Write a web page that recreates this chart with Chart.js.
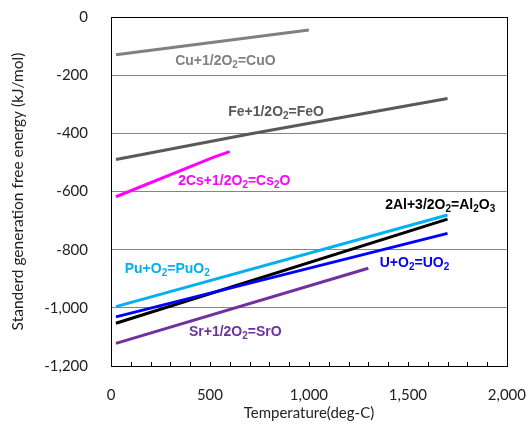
<!DOCTYPE html>
<html>
<head>
<meta charset="utf-8">
<script src="https://cdn.jsdelivr.net/npm/chart.js@4.4.1/dist/chart.umd.min.js"></script>
<style>
  html, body { margin: 0; padding: 0; background: #fff; }
  #wrap { width: 529px; height: 431px; }
</style>
</head>
<body>
<div id="wrap"><canvas id="ellingham"></canvas></div>
<script>
// temperature (deg-C) and standard free energy (kJ/mol) per reaction
const cuT = [25, 1000];
const cuG = [-130, -45];
const feT = [25, 700, 1700];
const feG = [-490, -402, -280];
const csT = [25, 520, 600];
const csG = [-618, -482, -463];
const alT = [25, 1700];
const alG = [-1053, -695];
const puT = [25, 1700];
const puG = [-996, -681];
const uT = [25, 1700];
const uG = [-1031, -744];
const srT = [25, 1300];
const srG = [-1122, -864];

const xTicks = [0, 500, 1000, 1500, 2000];
const yTicks = [0, -200, -400, -600, -800, -1000, -1200];

const pts = (xs, ys) => xs.map((x, i) => ({x: x, y: ys[i]}));

// reaction labels, '_' marks the next char as a subscript
const notes = [
    {text: 'Cu+1/2O_2=CuO', x: 578, y: -151, color: '#808080'},
    {text: 'Fe+1/2O_2=FeO', x: 834, y: -327, color: '#595959'},
    {text: '2Cs+1/2O_2=Cs_2O', x: 623, y: -564, color: '#ff00ff'},
    {text: '2Al+3/2O_2=Al_2O_3', x: 1663, y: -646, color: '#000000'},
    {text: 'Pu+O_2=PuO_2', x: 284, y: -867, color: '#00b0f0'},
    {text: 'U+O_2=UO_2', x: 1533, y: -846, color: '#0000ff'},
    {text: 'Sr+1/2O_2=SrO', x: 628, y: -1083, color: '#7030a0'},
];

const decor = {
    id: 'decor',
    afterDraw(chart) {
        const ctx = chart.ctx;
        const a = chart.chartArea;
        const sx = chart.scales.x, sy = chart.scales.y;
        ctx.save();
        // inward minor ticks on the x axis
        ctx.strokeStyle = '#000';
        ctx.lineWidth = 1;
        ctx.beginPath();
        for (let v = 100; v < 2000; v += 100) {
            const px = Math.round(sx.getPixelForValue(v)) + 0.5;
            ctx.moveTo(px, a.bottom);
            ctx.lineTo(px, a.bottom - 4);
        }
        ctx.stroke();
        // frame
        ctx.strokeRect(Math.round(a.left) + 0.5, Math.round(a.top) + 0.5,
            Math.round(a.right - a.left), Math.round(a.bottom - a.top));
        // labels
        ctx.textBaseline = 'middle';
        ctx.textAlign = 'left';
        notes.forEach(n => {
            const parts = [];
            for (let i = 0; i < n.text.length; i++) {
                if (n.text[i] === '_') { parts.push([n.text[i + 1], true]); i++; }
                else parts.push([n.text[i], false]);
            }
            const big = 'bold 14px "Liberation Sans", Arial, sans-serif';
            const small = 'bold 10px "Liberation Sans", Arial, sans-serif';
            let w = 0;
            parts.forEach(p => { ctx.font = p[1] ? small : big; w += ctx.measureText(p[0]).width; });
            let cx = sx.getPixelForValue(n.x) - w / 2;
            const cy = sy.getPixelForValue(n.y);
            ctx.fillStyle = n.color;
            parts.forEach(p => {
                ctx.font = p[1] ? small : big;
                ctx.fillText(p[0], cx, p[1] ? cy + 4 : cy);
                cx += ctx.measureText(p[0]).width;
            });
        });
        ctx.restore();
    }
};

const line = (label, data, color) => ({
    label: label,
    data: data,
    borderColor: color,
    backgroundColor: color,
    borderWidth: 3,
    pointRadius: 0,
    fill: false,
    tension: 0,
});

const config = {
    type: 'line',
    data: {
        datasets: [
            line('Cu', pts(cuT, cuG), '#808080'),
            line('Fe', pts(feT, feG), '#595959'),
            line('Cs', pts(csT, csG), '#ff00ff'),
            line('Sr', pts(srT, srG), '#7030a0'),
            line('U', pts(uT, uG), '#0000ff'),
            line('Al', pts(alT, alG), '#000000'),
            line('Pu', pts(puT, puG), '#00b0f0'),
        ]
    },
    options: {
        responsive: true,
        maintainAspectRatio: false,
        animation: false,
        layout: {
            padding: {top: 17, right: 20, left: 0, bottom: 0}
        },
        plugins: {
            legend: {display: false},
            tooltip: {enabled: false}
        },
        scales: {
            x: {
                type: 'linear',
                min: 0,
                max: 2000,
                afterFit: s => { s.height = 65; },
                afterBuildTicks: s => { s.ticks = xTicks.map(v => ({value: v})); },
                grid: {
                    display: true,
                    drawOnChartArea: false,
                    drawTicks: true,
                    tickLength: 17,
                    color: 'rgba(0,0,0,0)',
                    tickColor: 'rgba(0,0,0,0)'
                },
                border: {color: '#000'},
                ticks: {
                    color: '#222',
                    padding: 3,
                    maxRotation: 0,
                    font: {family: 'Lato, "Open Sans", sans-serif', size: 15},
                    callback: v => v.toLocaleString('en-US')
                },
                title: {
                    display: true,
                    text: 'Temperature(deg-C)',
                    color: '#222',
                    padding: {top: 0, bottom: 9},
                    font: {family: 'Lato, "Open Sans", sans-serif', size: 15}
                }
            },
            y: {
                min: -1200,
                max: 0,
                afterFit: s => { s.width = 111; },
                afterBuildTicks: s => { s.ticks = yTicks.map(v => ({value: v})); },
                grid: {
                    color: '#868686',
                    drawTicks: true,
                    tickLength: 20,
                    tickColor: 'rgba(0,0,0,0)'
                },
                border: {color: '#000'},
                ticks: {
                    color: '#222',
                    padding: 3,
                    font: {family: 'Lato, "Open Sans", sans-serif', size: 15},
                    callback: v => v.toLocaleString('en-US')
                },
                title: {
                    display: true,
                    text: 'Standerd generation free energy (kJ/mol)',
                    color: '#222',
                    padding: {top: 9, bottom: 0},
                    font: {family: 'Lato, "Open Sans", sans-serif', size: 15.5}
                }
            }
        }
    },
    plugins: [decor]
};

const ellingham = new Chart(document.getElementById('ellingham'), config);
</script>
</body>
</html>
